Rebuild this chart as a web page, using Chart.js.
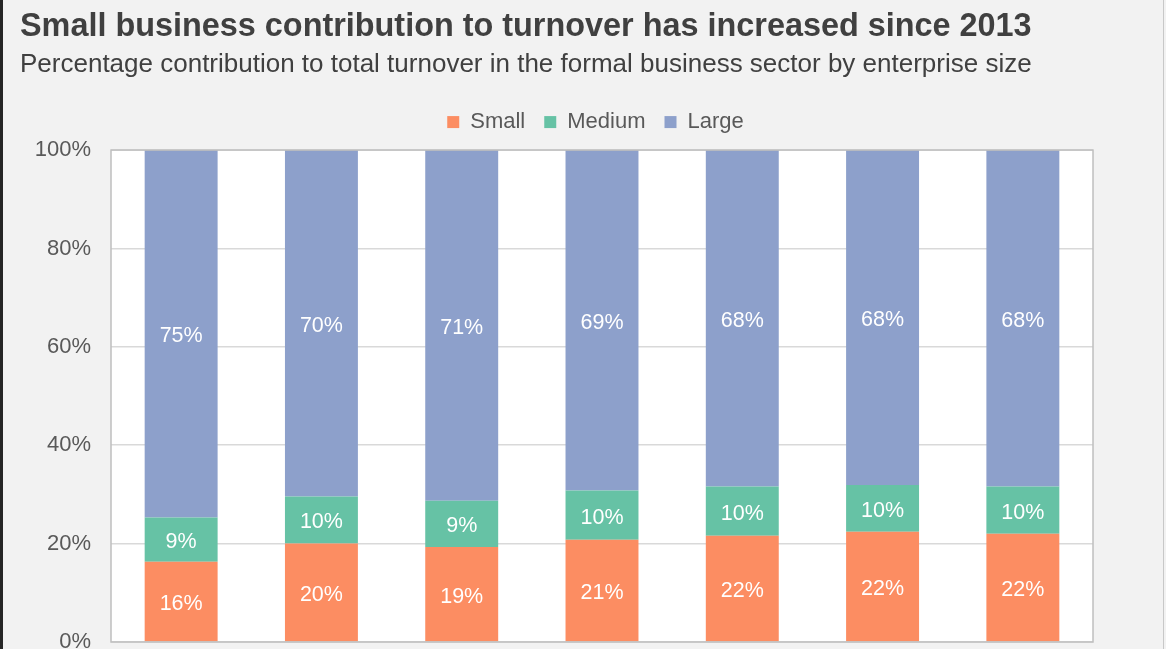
<!DOCTYPE html>
<html>
<head>
<meta charset="utf-8">
<script src="https://cdn.jsdelivr.net/npm/chart.js@4.4.0/dist/chart.umd.min.js"></script>
<style>
  html, body { margin: 0; padding: 0; background: #f2f2f2; overflow: hidden; width: 1166px; height: 649px; }
  #wrap { position: absolute; left: 0; top: 0; width: 1166px; height: 700px; }
  #edgeL { position: absolute; left: 0; top: 0; width: 3px; height: 649px; background: #262626; }
  #edgeR { position: absolute; left: 1163px; top: 0; width: 1px; height: 649px; background: #c8c8c8; }
</style>
</head>
<body>
<div id="wrap"><canvas id="c" width="1166" height="700"></canvas></div>
<div id="edgeL"></div>
<div id="edgeR"></div>
<script>
const categories = ['2013', '2014', '2015', '2016', '2017', '2018', '2019'];
const smallValues  = [16.3, 20.0, 19.3, 20.8, 21.6, 22.4, 22.0];
const mediumValues = [9.0, 9.6, 9.4, 10.0, 10.0, 9.5, 9.6];
const largeValues  = [74.7, 70.4, 71.3, 69.2, 68.4, 68.1, 68.4];
const yTicks = [0, 20, 40, 60, 80, 100];

const FONT = "'Liberation Sans', Arial, sans-serif";

const plotBg = {
  id: 'plotBg',
  afterLayout(chart) {
    const lg = chart.legend;
    if (lg) {
      lg.left = 24; lg.right = 1167;
      lg.top -= 7; lg.bottom -= 7;
    }
  },
  beforeDraw(chart) {
    const { ctx, chartArea: a } = chart;
    ctx.save();
    ctx.fillStyle = '#ffffff';
    ctx.fillRect(a.left, a.top, a.right - a.left, a.bottom - a.top);
    ctx.restore();
  },
  afterDraw(chart) {
    const { ctx, chartArea: a } = chart;
    ctx.save();
    ctx.strokeStyle = '#bfbfbf';
    ctx.lineWidth = 1.5;
    ctx.strokeRect(a.left, a.top, a.right - a.left, a.bottom - a.top);
    ctx.restore();
  }
};

const segLabels = {
  id: 'segLabels',
  afterDatasetsDraw(chart) {
    const { ctx } = chart;
    ctx.save();
    ctx.fillStyle = '#ffffff';
    ctx.font = '21.5px ' + FONT;
    ctx.textAlign = 'center';
    ctx.textBaseline = 'middle';
    chart.data.datasets.forEach((ds, di) => {
      const meta = chart.getDatasetMeta(di);
      meta.data.forEach((bar, i) => {
        const v = ds.data[i];
        const y = (bar.y + bar.base) / 2 + 2.5;
        ctx.fillText(Math.round(v) + '%', bar.x, y);
      });
    });
    ctx.restore();
  }
};

new Chart(document.getElementById('c'), {
  type: 'bar',
  data: {
    labels: categories,
    datasets: [
      { label: 'Small', data: smallValues, backgroundColor: '#fc8d62' },
      { label: 'Medium', data: mediumValues, backgroundColor: '#66c2a5' },
      { label: 'Large', data: largeValues, backgroundColor: '#8da0cb' }
    ]
  },
  options: {
    responsive: false,
    animation: false,
    devicePixelRatio: 1,
    layout: { padding: { top: 8, left: 20, right: 73, bottom: 0 } },
    datasets: { bar: { categoryPercentage: 1, barPercentage: 0.52 } },
    plugins: {
      title: {
        display: true, align: 'start',
        text: 'Small business contribution to turnover has increased since 2013',
        color: '#404040',
        font: { family: FONT, size: 32.4, weight: 'bold' },
        padding: { top: 0, bottom: 2 }
      },
      subtitle: {
        display: true, align: 'start',
        text: 'Percentage contribution to total turnover in the formal business sector by enterprise size',
        color: '#404040',
        font: { family: FONT, size: 26 },
        padding: { top: 0, bottom: 19 }
      },
      legend: {
        display: true, position: 'top', align: 'center',
        labels: {
          color: '#595959', font: { family: FONT, size: 22 },
          boxWidth: 12, boxHeight: 12, padding: 19
        }
      },
      tooltip: { enabled: false }
    },
    scales: {
      x: {
        stacked: true,
        grid: { display: false, drawTicks: false },
        border: { display: false },
        ticks: { color: '#595959', font: { family: FONT, size: 22 } },
        afterFit(s) { s.height = 58; }
      },
      y: {
        stacked: true, min: 0, max: 100,
        afterBuildTicks(s) { s.ticks = yTicks.map(v => ({ value: v })); },
        grid: { color: '#d9d9d9', lineWidth: 1.5, drawTicks: false },
        border: { display: false },
        ticks: {
          color: '#595959', font: { family: FONT, size: 22 }, padding: 20,
          callback: v => v + '%'
        },
        afterFit(s) { s.width = 91; }
      }
    }
  },
  plugins: [plotBg, segLabels]
});
</script>
</body>
</html>
